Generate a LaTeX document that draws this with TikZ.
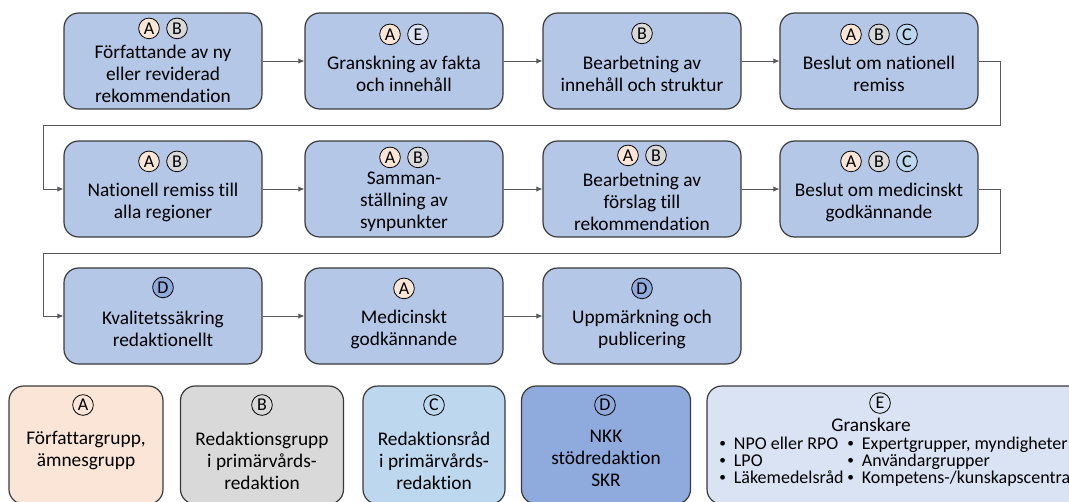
\documentclass[tikz,border=0pt]{standalone}
\usepackage{fontspec}
\setmainfont{Carlito}[Ligatures=CommonOff]
\usetikzlibrary{arrows.meta}

\definecolor{stepfill}{HTML}{B4C7E7}
\definecolor{boxline}{HTML}{3A3A3A}
\definecolor{grpA}{HTML}{FBE5D6}
\definecolor{grpB}{HTML}{D9D9D9}
\definecolor{grpC}{HTML}{BDD7EE}
\definecolor{grpD}{HTML}{8FAADC}
\definecolor{grpE}{HTML}{DAE3F3}

\tikzstyle{stepbox}=[draw=boxline,fill=stepfill,rounded corners=11pt,minimum width=148.5pt,minimum height=72pt,inner sep=0pt,line width=0.9pt]
\tikzstyle{steptext}=[align=center,inner sep=0pt,font=\fontsize{14.5}{16.5}\selectfont]
\tikzstyle{tag}=[circle,draw=black,line width=0.6pt,minimum size=15.5pt,inner sep=0pt,font=\fontsize{13.5}{14}\selectfont]
\tikzstyle{flow}=[draw=black!65,line width=0.6pt,-{Latex[length=4.5pt,width=4pt]}]
\tikzstyle{groupbox}=[draw=boxline,rounded corners=11pt,minimum height=88.5pt,inner sep=0pt,line width=0.9pt]
\tikzstyle{listtext}=[anchor=base west,inner sep=0pt,font=\fontsize{13.5}{13.5}\selectfont]
\newcommand{\listdot}{\raisebox{1pt}{\fontsize{10}{10}\selectfont•}\hspace{6pt}}

\begin{document}
\begin{tikzpicture}[x=0.75pt,y=-0.75pt]
\clip (0,0) rectangle (1069,501);

% process steps
\foreach \name/\pos/\cy/\n/\tags/\txt in {
    s1/{(163,61)}/16/2/{A,B}/{Författande av ny\\eller reviderad\\rekommendation},
    s2/{(404,61)}/22/2/{A,E}/{Granskning av fakta\\och innehåll},
    s3/{(642,61)}/21/1/{B}/{Bearbetning av\\innehåll och struktur},
    s4/{(879,61)}/22/3/{A,B,C}/{Beslut om nationell\\remiss},
    s5/{(163,189)}/21/2/{A,B}/{Nationell remiss till\\alla regioner},
    s6/{(404,189)}/17/2/{A,B}/{Samman-\\ställning av\\synpunkter},
    s7/{(642,189)}/15/2/{A,B}/{Bearbetning av\\förslag till\\rekommendation},
    s8/{(879,189)}/21/3/{A,B,C}/{Beslut om medicinskt\\godkännande},
    s9/{(163,316)}/20/1/{D}/{Kvalitetssäkring\\redaktionellt},
    s10/{(404,316)}/21/1/{A}/{Medicinskt\\godkännande},
    s11/{(642,316)}/21/1/{D}/{Uppmärkning och\\publicering}}{
  \node[stepbox] (\name) at \pos {};
  \node[steptext] (\name-txt) at ([yshift=-9.75pt]\name.center) {\txt};
  \foreach \t [count=\i] in \tags {
    \pgfmathsetmacro\dx{(\i-(\n+1)/2)*21}
    \node[tag,fill=grp\t] (\name-\t) at ([xshift=\dx pt,yshift=-\cy*0.75pt]\name.north) {\t};
  }
}

% arrows within a row
\foreach \a/\b in {s1/s2,s2/s3,s3/s4,s5/s6,s6/s7,s7/s8,s9/s10,s10/s11}
  \draw[flow] (\a) -- (\b);

% arrows from one row to the next
\coordinate (turn1r) at (1000,125);
\coordinate (turn1l) at (43,125);
\coordinate (turn2r) at (1000,253);
\coordinate (turn2l) at (43,253);
\draw[flow] (s4.east) -| (turn1r) -- (turn1l) |- (s5.west);
\draw[flow] (s8.east) -| (turn2r) -- (turn2l) |- (s9.west);

% legend
\foreach \g/\x/\w/\cx/\ty/\txt in {
    A/86/154/83/451/{Författargrupp,\\ämnesgrupp},
    B/262/163/262/461/{Redaktionsgrupp\\i primärvårds-\\redaktion},
    C/434/142/434/461/{Redaktionsråd\\i primärvårds-\\redaktion},
    D/606/169/605/458/{NKK\\stödredaktion\\SKR}}{
  \node[groupbox,fill=grp\g,minimum width=\w*0.75pt] (g\g) at (\x,445) {};
  \node[tag,fill=none] (g\g-tag) at (\cx,405) {\g};
  \node[steptext] (g\g-txt) at (\x,\ty) {\txt};
}
\node[groupbox,fill=grpE,minimum width=283.5pt] (gE) at (896,445) {};
\node[tag,fill=none] (gE-tag) at (880,403) {E};
\node[steptext] (gE-txt) at (871,425) {Granskare};
\foreach \y/\l/\r in {449/{NPO eller RPO}/{Expertgrupper, myndigheter},
                      466/{LPO}/{Användargrupper},
                      483/{Läkemedelsråd}/{Kompetens-/kunskapscentra}}{
  \node[listtext] (gE-l\y) at (719,\y) {\listdot\l};
  \node[listtext] (gE-r\y) at (847,\y) {\listdot\r};
}
\end{tikzpicture}
\end{document}
